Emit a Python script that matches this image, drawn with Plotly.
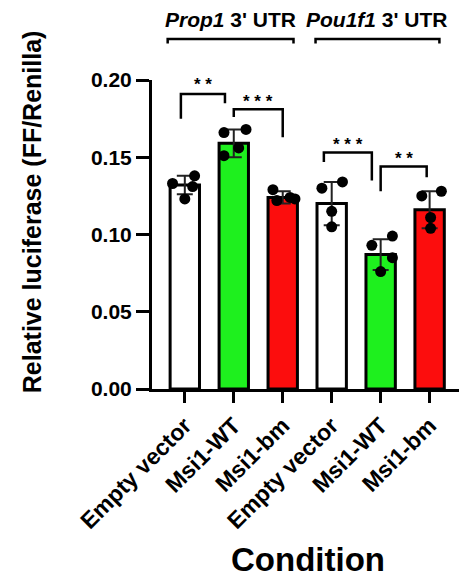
import plotly.graph_objects as go

# ---------------- data ----------------
categories = ["Empty vector", "Msi1-WT", "Msi1-bm", "Empty vector", "Msi1-WT", "Msi1-bm"]
means = [0.132, 0.159, 0.124, 0.120, 0.087, 0.116]
sds = [0.006, 0.009, 0.004, 0.014, 0.010, 0.012]
replicates = [
    [0.138, 0.133, 0.131, 0.123],
    [0.166, 0.168, 0.151, 0.156],
    [0.129, 0.122, 0.124, 0.123],
    [0.130, 0.134, 0.115, 0.105],
    [0.093, 0.099, 0.085, 0.076],
    [0.125, 0.128, 0.111, 0.104],
]
group_labels = ["<i>Prop1</i> 3' UTR", "<i>Pou1f1</i> 3' UTR"]
sig_labels = ["**", "***", "***", "**"]
y_tick_vals = [0.00, 0.05, 0.10, 0.15, 0.20]

# ---------------- style ----------------
FONT = "Liberation Sans, Arial, Helvetica, sans-serif"
bar_colors = ["#ffffff", "#1ef01e", "#fc0d0d", "#ffffff", "#1ef01e", "#fc0d0d"]
jitter = [
    [0.20, -0.25, 0.16, 0.0],
    [-0.20, 0.25, -0.20, 0.10],
    [-0.20, -0.12, 0.15, 0.25],
    [-0.20, 0.22, 0.0, 0.0],
    [-0.18, 0.24, 0.24, 0.0],
    [-0.16, 0.24, 0.02, 0.02],
]
xpos = list(range(len(categories)))

fig = go.Figure()
fig.add_trace(go.Bar(
    x=xpos, y=means, width=0.6,
    marker=dict(color=bar_colors, line=dict(color="black", width=3)),
    error_y=dict(type="data", array=sds, visible=True, color="#222222", thickness=2, width=8),
    showlegend=False,
))
dx, dy = [], []
for i, reps in enumerate(replicates):
    for j, v in enumerate(reps):
        dx.append(xpos[i] + jitter[i][j])
        dy.append(v)
fig.add_trace(go.Scatter(
    x=dx, y=dy, mode="markers",
    marker=dict(color="black", size=11),
    showlegend=False, cliponaxis=False,
))

# significance brackets: (x_left, x_right, y_left_bottom, y_top, y_right_bottom, y_star)
brackets = [
    (-0.08, 0.82, 0.175, 0.191, 0.185, 0.197),
    (1.00, 2.00, 0.176, 0.181, 0.163, 0.186),
    (2.84, 3.82, 0.147, 0.153, 0.135, 0.158),
    (4.00, 4.94, 0.128, 0.144, 0.137, 0.149),
]
shapes = []
annotations = []
for (x0, x1, yl, yt, yr, ys), lab in zip(brackets, sig_labels):
    shapes.append(dict(type="path", xref="x", yref="y",
                       path=f"M {x0},{yl} L {x0},{yt} L {x1},{yt} L {x1},{yr}",
                       line=dict(color="black", width=2.5)))
    annotations.append(dict(x=(x0 + x1) / 2, y=ys, xref="x", yref="y",
                            text="<b>" + " ".join(lab) + "</b>", showarrow=False,
                            font=dict(family=FONT, size=17, color="black"),
                            yanchor="middle"))

# group brackets above the plot
groups = [(-0.35, 2.22), (2.67, 5.20)]
for (x0, x1), lab in zip(groups, group_labels):
    shapes.append(dict(type="path", xref="x", yref="paper",
                       path=f"M {x0},1.118 L {x0},1.133 L {x1},1.133 L {x1},1.118",
                       line=dict(color="black", width=2.5)))
    annotations.append(dict(x=(x0 + x1) / 2, y=1.197, xref="x", yref="paper",
                            text=f"<b>{lab}</b>", showarrow=False,
                            font=dict(family=FONT, size=21, color="black"),
                            yanchor="middle"))

annotations.append(dict(x=-0.39, y=0.573, xref="paper", yref="paper",
                        text="<b>Relative luciferase (FF/Renilla)</b>", textangle=-90,
                        showarrow=False, font=dict(family=FONT, size=25, color="black"),
                        xanchor="center", yanchor="middle"))
annotations.append(dict(x=0.508, y=-0.552, xref="paper", yref="paper",
                        text="<b>Condition</b>", showarrow=False,
                        font=dict(family=FONT, size=33, color="black"),
                        xanchor="center", yanchor="middle"))

fig.update_layout(
    width=459, height=578,
    margin=dict(l=152, r=0, t=80, b=189),
    plot_bgcolor="white", paper_bgcolor="white",
    shapes=shapes, annotations=annotations,
    font=dict(family=FONT, color="black"),
    xaxis=dict(
        range=[-0.67, 5.6], tickvals=xpos,
        ticktext=[f"<b>{c}</b>" for c in categories],
        tickangle=-45, tickfont=dict(family=FONT, size=23, color="black"),
        showline=True, linecolor="black", linewidth=3,
        ticks="outside", ticklen=11, tickwidth=2.5, tickcolor="black",
        showgrid=False, zeroline=False,
    ),
    yaxis=dict(
        range=[0, 0.2], tickvals=y_tick_vals,
        ticktext=[f"<b>{v:.2f}</b>" for v in y_tick_vals],
        tickfont=dict(family=FONT, size=21, color="black"),
        showline=True, linecolor="black", linewidth=3,
        ticks="outside", ticklen=13, tickwidth=2.5, tickcolor="black",
        showgrid=False, zeroline=False,
    ),
)

fig.write_html(
    "out.html",
    config={"displayModeBar": False},
    post_script="document.body.style.margin='0';document.body.style.overflow='hidden';",
)
